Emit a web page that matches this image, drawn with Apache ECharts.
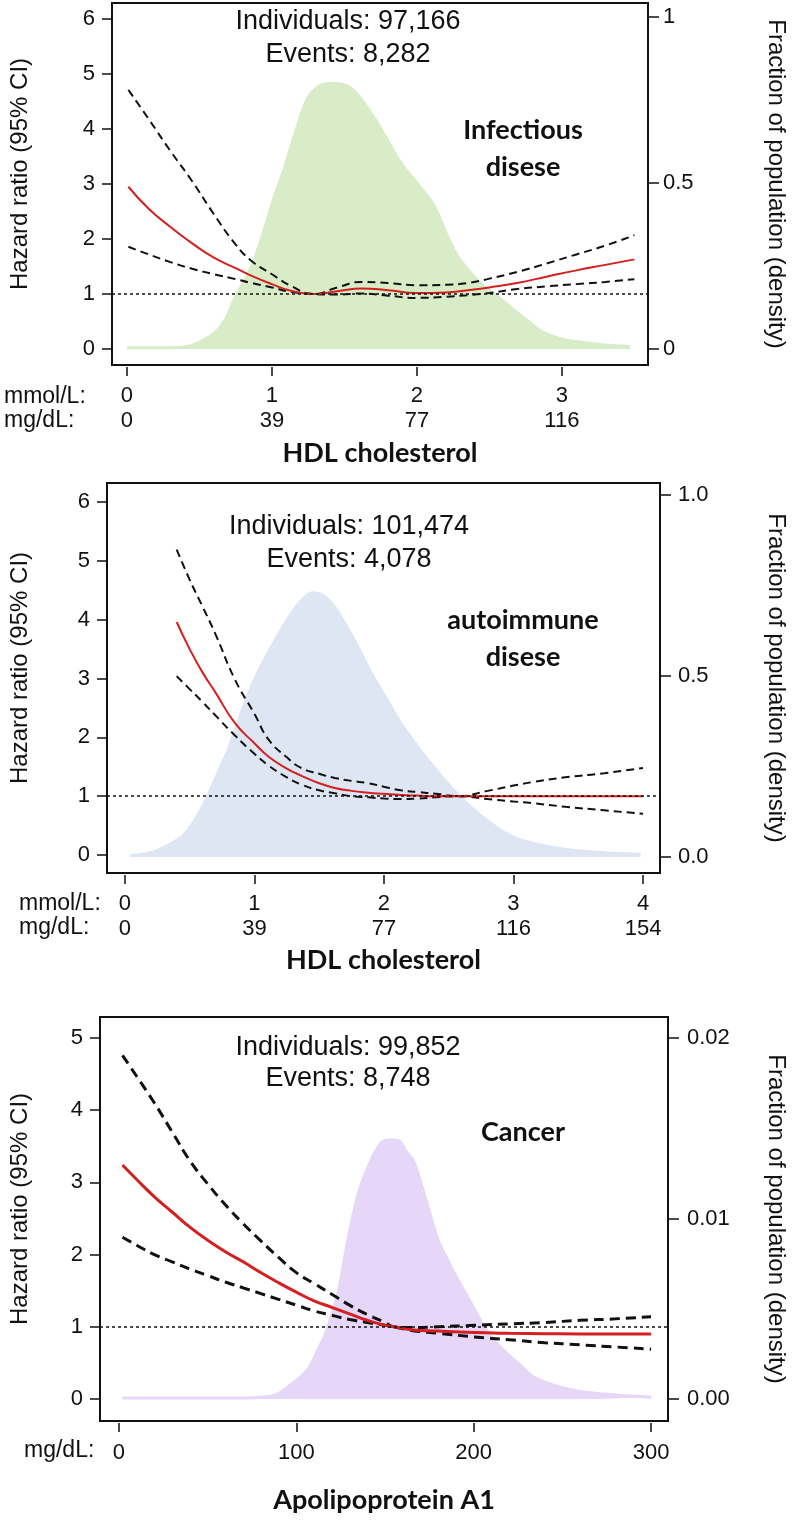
<!DOCTYPE html>
<html><head><meta charset="utf-8">
<script src="https://cdn.jsdelivr.net/npm/echarts@6/dist/echarts.min.js"></script>
<style>html,body{margin:0;padding:0;background:#fff}#c{width:797px;height:1533px}</style>
</head><body><div id="c"></div>
<script>
// ---------- Panel 1: HDL cholesterol / Infectious disease ----------
const p1X     = [0.01, 0.15, 0.3, 0.45, 0.6, 0.75, 0.86, 1.0, 1.13, 1.29, 1.45, 1.62, 1.8, 2.0, 2.2, 2.35, 2.5, 2.69, 2.9, 3.1, 3.3, 3.5];
const p1HR    = [2.95, 2.55, 2.22, 1.92, 1.66, 1.47, 1.33, 1.18, 1.06, 1.0, 1.05, 1.1, 1.07, 1.02, 1.03, 1.07, 1.12, 1.2, 1.32, 1.43, 1.53, 1.63];
const p1Upper = [4.71, 4.18, 3.6, 3.05, 2.45, 1.9, 1.6, 1.36, 1.15, 1.0, 1.12, 1.22, 1.2, 1.16, 1.17, 1.2, 1.28, 1.4, 1.56, 1.72, 1.88, 2.07];
const p1Lower = [1.86, 1.72, 1.58, 1.46, 1.36, 1.27, 1.2, 1.12, 1.04, 1.0, 0.99, 1.01, 0.97, 0.93, 0.95, 0.98, 1.02, 1.09, 1.14, 1.18, 1.22, 1.27];
const p1DensX = [0.0, 0.3, 0.42, 0.52, 0.61, 0.68, 0.74, 0.86, 0.94, 1.01, 1.09, 1.16, 1.24, 1.32, 1.41, 1.53, 1.62, 1.7, 1.77, 1.89, 2.0, 2.12, 2.2, 2.28, 2.37, 2.46, 2.58, 2.69, 2.78, 2.87, 3.0, 3.15, 3.3, 3.47];
const p1Dens  = [0.004, 0.004, 0.008, 0.025, 0.05, 0.09, 0.15, 0.25, 0.35, 0.45, 0.55, 0.65, 0.75, 0.79, 0.80, 0.79, 0.75, 0.70, 0.65, 0.56, 0.50, 0.43, 0.35, 0.28, 0.23, 0.19, 0.15, 0.11, 0.08, 0.05, 0.03, 0.02, 0.012, 0.008];
const p1TickMmol = ['0', '1', '2', '3'];
const p1TickMg   = ['0', '39', '77', '116'];
const p1XTicks   = [0, 1, 2, 3];
const p1YTicks   = [0, 1, 2, 3, 4, 5, 6];
const p1RTicks   = [0, 0.5, 1];
const p1RLabels  = ['0', '0.5', '1'];

// ---------- Panel 2: HDL cholesterol / autoimmune disease ----------
const p2X     = [0.4, 0.5, 0.6, 0.7, 0.85, 1.0, 1.11, 1.25, 1.36, 1.5, 1.62, 1.75, 1.88, 2.0, 2.13, 2.26, 2.4, 2.57, 2.8, 3.0, 3.15, 3.4, 3.7, 4.0];
const p2HR    = [3.96, 3.5, 3.1, 2.76, 2.24, 1.9, 1.67, 1.47, 1.35, 1.22, 1.14, 1.09, 1.06, 1.04, 1.02, 1.01, 1.0, 1.0, 1.0, 1.0, 1.0, 1.0, 1.0, 1.0];
const p2Upper = [5.19, 4.68, 4.22, 3.75, 2.98, 2.4, 1.96, 1.66, 1.48, 1.38, 1.31, 1.26, 1.22, 1.16, 1.1, 1.07, 1.04, 1.0, 1.09, 1.18, 1.24, 1.32, 1.39, 1.48];
const p2Lower = [3.04, 2.82, 2.6, 2.37, 2.03, 1.72, 1.52, 1.32, 1.2, 1.1, 1.05, 1.0, 0.98, 0.96, 0.95, 0.96, 0.98, 1.0, 0.95, 0.91, 0.88, 0.82, 0.76, 0.70];
const p2DensX = [0.04, 0.2, 0.31, 0.45, 0.57, 0.69, 0.8, 0.9, 1.0, 1.13, 1.28, 1.38, 1.45, 1.52, 1.62, 1.77, 1.9, 2.03, 2.13, 2.25, 2.38, 2.5, 2.65, 2.78, 2.9, 3.0, 3.15, 3.42, 3.7, 3.98];
const p2Dens  = [0.004, 0.012, 0.028, 0.06, 0.12, 0.21, 0.30, 0.40, 0.49, 0.58, 0.67, 0.715, 0.73, 0.725, 0.69, 0.60, 0.51, 0.43, 0.37, 0.31, 0.25, 0.20, 0.145, 0.105, 0.075, 0.055, 0.038, 0.02, 0.012, 0.008];
const p2TickMmol = ['0', '1', '2', '3', '4'];
const p2TickMg   = ['0', '39', '77', '116', '154'];
const p2XTicks   = [0, 1, 2, 3, 4];
const p2YTicks   = [0, 1, 2, 3, 4, 5, 6];
const p2RTicks   = [0, 0.5, 1];
const p2RLabels  = ['0.0', '0.5', '1.0'];

// ---------- Panel 3: Apolipoprotein A1 / Cancer ----------
const p3X     = [2, 10, 20, 30, 40, 50, 60, 70, 80, 90, 100, 110, 120, 130, 140, 150, 155, 165, 180, 200, 220, 240, 260, 280, 300];
const p3HR    = [3.24, 3.04, 2.8, 2.59, 2.38, 2.2, 2.04, 1.9, 1.75, 1.61, 1.48, 1.36, 1.27, 1.18, 1.09, 1.02, 1.0, 0.96, 0.94, 0.92, 0.91, 0.905, 0.9, 0.9, 0.9];
const p3Upper = [4.76, 4.47, 4.1, 3.7, 3.3, 2.98, 2.69, 2.43, 2.19, 1.96, 1.75, 1.6, 1.45, 1.3, 1.17, 1.06, 1.0, 0.99, 1.0, 1.02, 1.04, 1.06, 1.09, 1.11, 1.14];
const p3Lower = [2.24, 2.13, 2.0, 1.9, 1.8, 1.71, 1.62, 1.54, 1.46, 1.38, 1.3, 1.22, 1.16, 1.1, 1.06, 1.02, 1.0, 0.95, 0.91, 0.86, 0.82, 0.78, 0.75, 0.72, 0.69];
const p3DensX = [2, 60, 80, 90, 97, 102, 107, 112, 116, 120, 124, 129, 135, 142, 148, 153, 158, 162, 166, 172, 180, 189, 198, 206, 212, 219, 227, 234, 251, 270, 300];
const p3Dens  = [0.00005, 0.00005, 0.0001, 0.0003, 0.0008, 0.0012, 0.0017, 0.0027, 0.0035, 0.0047, 0.0061, 0.0088, 0.0114, 0.0132, 0.0142, 0.01435, 0.0143, 0.0137, 0.0132, 0.0114, 0.0088, 0.0070, 0.0054, 0.0040, 0.0032, 0.0025, 0.0018, 0.0012, 0.0006, 0.0003, 0.0001];
const p3TickMg   = ['0', '100', '200', '300'];
const p3XTicks   = [0, 100, 200, 300];
const p3YTicks   = [0, 1, 2, 3, 4, 5];
const p3RTicks   = [0, 0.01, 0.02];
const p3RLabels  = ['0.00', '0.01', '0.02'];

// ---------- Text ----------
const p1Info = ['Individuals: 97,166', 'Events: 8,282'];
const p2Info = ['Individuals: 101,474', 'Events: 4,078'];
const p3Info = ['Individuals: 99,852', 'Events: 8,748'];
const p1Label = ['Infectious', 'disese'];
const p2Label = ['autoimmune', 'disese'];
const p3Label = ['Cancer'];

const FONT = "'Liberation Sans', Arial, sans-serif";
const BOLD = "Lato, 'Open Sans', sans-serif";
const INK = '#111';
const RED = '#d42020';

function pairs(xs, ys) { return xs.map((x, i) => [x, ys[i]]); }

const grids = [], xAxes = [], yAxes = [], series = [];

function panel(idx, c) {
  grids.push({ left: c.g[0], top: c.g[1], width: c.g[2], height: c.g[3], show: true,
    borderColor: INK, borderWidth: 2, backgroundColor: 'transparent', containLabel: false });
  xAxes.push({
    type: 'value', gridIndex: idx, position: 'bottom', min: c.xr[0], max: c.xr[1], offset: 2,
    axisLine: { show: false, onZero: false },
    axisTick: { show: true, inside: false, customValues: c.xTicks, length: 9, lineStyle: { color: INK, width: 1.5 } },
    axisLabel: { customValues: c.xTicks, margin: c.xMargin, color: INK, fontFamily: FONT, fontSize: 22, lineHeight: 25,
      formatter: v => c.xLab(c.xTicks.indexOf(v)) },
    splitLine: { show: false },
    name: c.xName, nameLocation: 'middle', nameGap: c.xGap,
    nameTextStyle: { color: INK, fontFamily: BOLD, fontWeight: 'bold', fontSize: 27 }
  });
  yAxes.push({
    type: 'value', gridIndex: idx, position: 'left', min: c.yr[0], max: c.yr[1],
    axisLine: { show: false, onZero: false },
    axisTick: { show: true, inside: false, customValues: c.yTicks, length: 10, lineStyle: { color: INK, width: 1.5 } },
    axisLabel: { customValues: c.yTicks, margin: 17, color: INK, fontFamily: FONT, fontSize: 22 },
    splitLine: { show: false },
    name: 'Hazard ratio (95% CI)', nameLocation: 'middle', nameGap: c.lGap,
    nameTextStyle: { color: INK, fontFamily: FONT, fontSize: 24, padding: [0, 0, 0, 20] }
  });
  yAxes.push({
    type: 'value', gridIndex: idx, position: 'right', min: c.rr[0], max: c.rr[1],
    axisLine: { show: false, onZero: false },
    axisTick: { show: true, inside: false, customValues: c.rTicks, length: 11, lineStyle: { color: INK, width: 1.5 } },
    axisLabel: { customValues: c.rTicks, margin: c.rMargin, color: INK, fontFamily: FONT, fontSize: 22,
      formatter: v => c.rLabels[c.rTicks.indexOf(v)] },
    splitLine: { show: false },
    name: 'Fraction of population (density)', nameLocation: 'middle', nameRotate: -90, nameGap: c.rGap,
    nameTextStyle: { color: INK, fontFamily: FONT, fontSize: 24 }
  });
  const yl = idx * 2, yr = idx * 2 + 1;
  const dash = c.w > 2 ? [10, 6] : [8, 5];
  series.push({
    type: 'line', xAxisIndex: idx, yAxisIndex: yr, data: pairs(c.dx, c.dy), smooth: 0.3,
    showSymbol: false, silent: true, z: 1,
    lineStyle: { color: c.fill, width: 3 }, areaStyle: { color: c.fill, opacity: 1 }
  });
  series.push({
    type: 'line', xAxisIndex: idx, yAxisIndex: yl, data: pairs(c.x, c.lo), smooth: 0.5,
    showSymbol: false, silent: true, z: 3,
    lineStyle: { color: INK, width: c.w, type: dash }
  });
  series.push({
    type: 'line', xAxisIndex: idx, yAxisIndex: yl, data: pairs(c.x, c.up), smooth: 0.5,
    showSymbol: false, silent: true, z: 3,
    lineStyle: { color: INK, width: c.w, type: dash }
  });
  series.push({
    type: 'line', xAxisIndex: idx, yAxisIndex: yl, data: pairs(c.x, c.hr), smooth: 0.5,
    showSymbol: false, silent: true, z: 4,
    lineStyle: { color: RED, width: c.w },
    markLine: { silent: true, symbol: ['none', 'none'], label: { show: false }, animation: false,
      lineStyle: { color: INK, width: 1.6, type: [3, 3] }, data: [{ yAxis: 1 }] }
  });
}

panel(0, {
  g: [110, 3, 538, 362], xr: [-0.103, 3.594], yr: [-0.29, 6.29], rr: [-0.048, 1.042],
  xTicks: p1XTicks, xLab: i => p1TickMmol[i] + '\n' + p1TickMg[i], xMargin: 16,
  yTicks: p1YTicks, rTicks: p1RTicks, rLabels: p1RLabels, rMargin: 15,
  xName: 'HDL cholesterol', xGap: 73, lGap: 80, rGap: 116,
  x: p1X, hr: p1HR, up: p1Upper, lo: p1Lower, dx: p1DensX, dy: p1Dens, fill: '#d8ecc8', w: 2
});
panel(1, {
  g: [105, 483, 555, 390], xr: [-0.138, 4.131], yr: [-0.306, 6.323], rr: [-0.044, 1.033],
  xTicks: p2XTicks, xLab: i => p2TickMmol[i] + '\n' + p2TickMg[i], xMargin: 16,
  yTicks: p2YTicks, rTicks: p2RTicks, rLabels: p2RLabels, rMargin: 18,
  xName: 'HDL cholesterol', xGap: 72, lGap: 75, rGap: 104,
  x: p2X, hr: p2HR, up: p2Upper, lo: p2Lower, dx: p2DensX, dy: p2Dens, fill: '#dfe6f3', w: 2
});
panel(2, {
  g: [98, 1017, 570, 404], xr: [-10.67, 309.55], yr: [-0.305, 5.291], rr: [-0.00122, 0.02116],
  xTicks: p3XTicks, xLab: i => p3TickMg[i], xMargin: 17,
  yTicks: p3YTicks, rTicks: p3RTicks, rLabels: p3RLabels, rMargin: 19,
  xName: 'Apolipoprotein A1', xGap: 64, lGap: 68, rGap: 96,
  x: p3X, hr: p3HR, up: p3Upper, lo: p3Lower, dx: p3DensX, dy: p3Dens, fill: '#e6d7f8', w: 3
});

function txt(x, y, s, font, align) {
  return { type: 'text', x: x, y: y, z: 10, silent: true,
    style: { text: s, fill: INK, font: font, align: align || 'center', verticalAlign: 'middle' } };
}
const NORM = "27px 'Liberation Sans', Arial, sans-serif";
const UNIT = "23px 'Liberation Sans', Arial, sans-serif";
const BLD = "bold 27px Lato, 'Open Sans', sans-serif";
const graphics = [
  txt(348, 22, p1Info[0], NORM), txt(348, 55, p1Info[1], NORM),
  txt(523, 130, p1Label[0], BLD), txt(523, 167, p1Label[1], BLD),
  txt(4, 397, 'mmol/L:', UNIT, 'left'), txt(4, 421, 'mg/dL:', UNIT, 'left'),

  txt(349, 527, p2Info[0], NORM), txt(349, 560, p2Info[1], NORM),
  txt(523, 620, p2Label[0], BLD), txt(523, 657, p2Label[1], BLD),
  txt(19, 904, 'mmol/L:', UNIT, 'left'), txt(19, 928, 'mg/dL:', UNIT, 'left'),

  txt(348, 1048, p3Info[0], NORM), txt(348, 1079, p3Info[1], NORM),
  txt(523, 1132, p3Label[0], BLD),
  txt(24, 1451, 'mg/dL:', UNIT, 'left')
];

const chart = echarts.init(document.getElementById('c'), null, { renderer: 'canvas' });
chart.setOption({
  animation: false,
  backgroundColor: '#fff',
  grid: grids, xAxis: xAxes, yAxis: yAxes, series: series, graphic: graphics
});
</script></body></html>
